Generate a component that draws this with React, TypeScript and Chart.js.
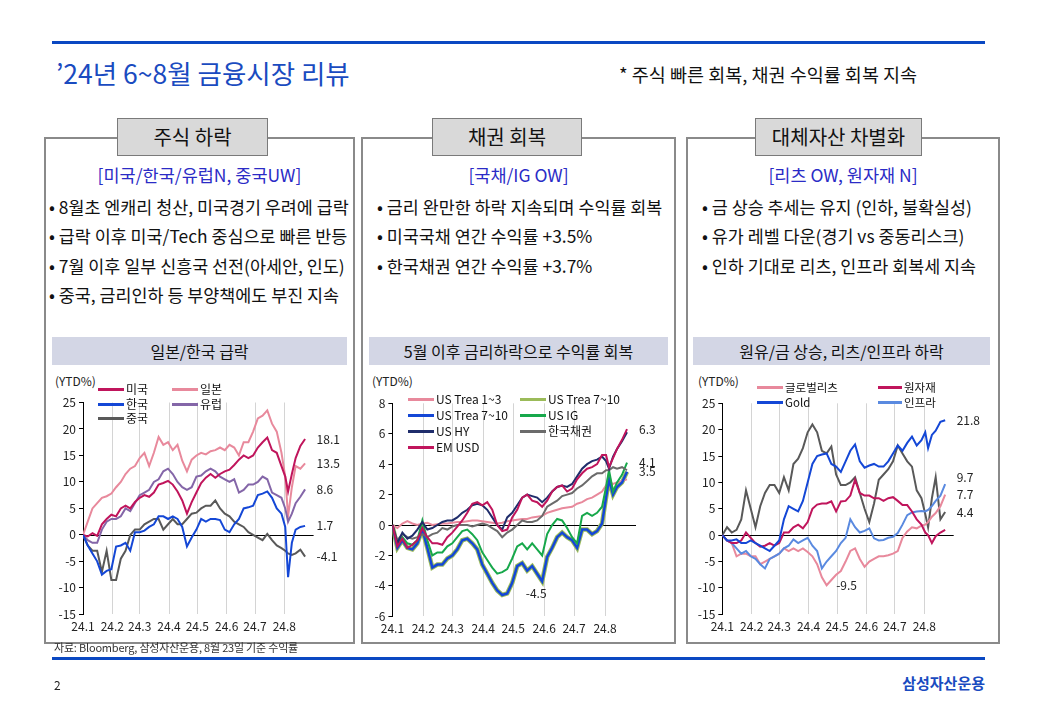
import React, { useEffect, useRef } from "react";
import { Chart, registerables } from "chart.js";

Chart.register(...registerables);

const FONT = '"Noto Sans CJK KR", "Noto Sans", sans-serif';
Chart.defaults.font.family = FONT;

// ---------- shared x data (days since 2024-01-01) ----------
const DAYS = [0, 5, 10, 15, 20, 25, 30, 35, 40, 45, 50, 55, 60, 65, 70, 75, 80, 85, 90, 95, 100, 105, 110, 115, 120, 125, 130, 135, 140, 145, 150, 155, 160, 165, 170, 175, 180, 185, 190, 195, 200, 205, 210, 214, 217, 221, 225, 230, 235];
const MONTH_DAYS = [0, 31, 60, 91, 121, 152, 182, 213];
const MONTH_LABELS = ["24.1", "24.2", "24.3", "24.4", "24.5", "24.6", "24.7", "24.8"];

// ---------- chart 1: equities ----------
const EQ_US = [0, -0.3, 0.3, -0.2, 2.0, 3.0, 3.8, 3.5, 5.0, 5.5, 5.0, 6.2, 7.0, 7.5, 7.2, 8.0, 9.5, 9.8, 10.2, 9.5, 8.2, 6.5, 4.0, 6.2, 8.0, 9.8, 10.8, 11.5, 10.8, 11.5, 12.0, 12.3, 13.2, 14.2, 15.0, 14.5, 15.0, 16.5, 17.5, 18.4, 16.0, 15.5, 13.0, 11.0, 8.2, 11.5, 14.5, 16.8, 18.1];
const EQ_JP = [0, 2.5, 5.0, 6.0, 7.0, 7.3, 7.8, 9.0, 10.0, 11.5, 12.5, 13.0, 14.5, 15.5, 13.0, 15.5, 18.5, 17.0, 17.5, 16.0, 17.0, 14.0, 12.0, 14.2, 15.0, 15.5, 15.2, 15.8, 16.0, 16.5, 16.0, 17.0, 16.5, 15.0, 17.5, 17.5, 19.5, 22.0, 22.5, 23.5, 21.0, 19.5, 15.5, 11.0, 3.5, 9.0, 13.0, 12.5, 13.5];
const EQ_KR = [0, -2.0, -3.5, -5.0, -7.5, -6.8, -6.5, -2.2, -2.0, -1.5, -3.0, 0.5, 0.5, 0.8, 1.5, 2.0, 3.5, 3.5, 3.0, 3.5, 3.0, 1.5, -2.2, -0.5, 1.0, 3.0, 2.5, 3.0, 3.0, 2.8, 1.0, 0.5, 2.0, 3.0, 5.0, 5.2, 5.5, 7.5, 7.8, 8.2, 7.0, 5.0, 4.0, 1.5, -8.0, -1.5, 1.0, 1.5, 1.7];
const EQ_EU = [0, -1.0, -1.5, -1.5, 1.0, 2.5, 3.0, 3.0, 3.5, 5.0, 4.5, 6.0, 7.5, 8.0, 8.5, 10.0, 10.5, 12.0, 12.5, 11.5, 10.0, 9.0, 8.5, 9.0, 11.0, 11.2, 12.0, 12.5, 12.0, 11.0, 10.5, 10.0, 10.5, 8.0, 8.5, 9.5, 9.5, 10.0, 11.0, 10.5, 8.0, 7.5, 7.0, 5.0, 2.5, 4.0, 6.0, 7.2, 8.6];
const EQ_CN = [0, -2.0, -3.0, -3.0, -7.0, -3.0, -8.5, -8.5, -4.5, -3.0, 0.0, 1.0, 1.0, 2.0, 2.5, 3.0, 3.0, 1.0, 2.0, 3.0, 2.0, 2.0, 3.0, 4.0, 4.2, 5.0, 5.5, 5.5, 6.5, 5.0, 4.0, 3.5, 2.5, 2.0, 1.5, 0.5, 0.0, -0.5, -1.0, 0.2, -1.0, -2.0, -2.5, -3.0, -3.5, -3.8, -3.5, -2.8, -4.1];
const EQ_END_LABELS = ["18.1", "13.5", "8.6", "1.7", "-4.1"];
const EQ_END_VALUES = [18.1, 13.5, 8.6, 1.7, -4.1];

// ---------- chart 2: bonds ----------
const BD_T13 = [0, -0.2, 0.1, 0.25, 0.1, 0.0, 0.1, 0.15, 0.0, 0.05, 0.1, 0.1, 0.15, 0.2, 0.2, 0.25, 0.3, 0.3, 0.25, 0.2, 0.15, 0.1, 0.15, 0.25, 0.3, 0.35, 0.4, 0.4, 0.5, 0.55, 0.6, 0.8, 0.9, 1.0, 1.1, 1.15, 1.2, 1.4, 1.5, 1.7, 1.8, 2.0, 2.2, 2.6, 2.8, 2.7, 2.8, 2.9, 3.0];
const BD_T710 = [0, -1.5, -1.0, -1.5, -1.6, -1.2, -0.3, -1.5, -2.8, -2.6, -2.6, -2.2, -2.0, -1.6, -1.0, -0.9, -1.2, -1.6, -2.6, -3.2, -3.8, -4.3, -4.6, -4.5, -3.8, -2.7, -2.5, -3.0, -2.7, -3.2, -3.7, -2.1, -1.5, -0.8, -0.5, -0.8, -1.0, -1.5, -0.3, -0.3, -0.6, -0.4, 0.1, 1.8, 3.0, 2.0, 2.5, 2.8, 3.5];
const BD_IG = [0, -1.2, -0.8, -1.2, -1.3, -1.0, 0.3, -1.0, -2.0, -1.8, -1.8, -1.4, -1.2, -0.8, -0.4, -0.3, -0.6, -1.0, -1.8, -2.3, -2.8, -3.2, -3.1, -2.9, -2.2, -1.4, -1.2, -1.6, -1.2, -1.6, -2.0, -0.6, 0.0, 0.4, 0.3, -0.2, -0.8, -1.2, 0.6, 0.8, 0.6, 0.8, 1.2, 2.5, 3.6, 2.2, 2.8, 3.3, 4.1];
const BD_HY = [0, -1.2, -0.5, -0.9, -0.7, -0.3, 0.2, -0.3, -0.2, 0.0, 0.2, 0.3, 0.3, 0.5, 0.8, 1.0, 1.3, 1.4, 1.3, 1.0, 0.5, 0.0, -0.3, 0.5, 0.8, 1.3, 1.8, 2.0, 1.9, 1.8, 1.5, 1.8, 2.2, 2.5, 2.6, 2.5, 2.7, 3.2, 3.7, 4.0, 4.2, 4.3, 4.5, 4.2, 3.7, 4.5, 5.0, 5.5, 6.1];
const BD_EM = [0, -1.4, -0.9, -1.5, -1.3, -1.0, -0.2, -0.8, -1.2, -1.2, -1.3, -0.8, -0.5, -0.1, 0.3, 0.8, 1.4, 1.5, 1.3, 1.5, 1.0, 0.0, -0.4, -0.3, 0.5, 1.0, 1.8, 2.0, 1.6, 1.5, 1.2, 1.6, 2.2, 2.5, 2.6, 2.2, 2.4, 3.0, 3.4, 3.7, 3.8, 4.0, 4.6, 4.6, 3.8, 4.4, 5.0, 5.6, 6.3];
const BD_KR = [0, -1.0, -0.6, -0.8, -0.9, -0.8, -0.6, -0.8, -0.6, -0.5, -0.2, -0.3, -0.1, 0.0, 0.0, 0.0, -0.1, 0.0, 0.1, 0.0, -0.2, -0.4, -0.8, -0.5, -0.3, 0.0, 0.3, 0.2, 0.2, 0.3, 0.6, 1.2, 1.4, 1.6, 1.9, 2.0, 2.1, 2.4, 2.6, 2.9, 3.2, 3.4, 3.4, 3.6, 3.6, 3.8, 3.7, 3.8, 3.6];
const BD_END_LABELS = ["6.3", "4.1", "3.5"];
const BD_END_VALUES = [6.3, 4.1, 3.5];
const BD_MIN_LABEL = "-4.5";
const BD_MIN_DAY = 144;
const BD_MIN_VALUE = -4.5;

// ---------- chart 3: alternatives ----------
const AL_REIT = [0, -1.0, -1.5, -4.0, -3.5, -3.5, -4.0, -4.0, -5.5, -5.0, -4.5, -4.0, -3.5, -2.5, -3.0, -2.5, -3.0, -2.5, -3.2, -4.0, -5.5, -8.0, -9.5, -8.5, -7.5, -6.8, -5.0, -3.0, -2.5, -4.5, -6.0, -5.0, -4.5, -4.0, -4.0, -3.8, -3.5, -3.0, -0.5, 0.7, 1.5, 1.3, 1.8, 2.0, 2.5, 3.5, 4.2, 5.5, 7.7];
const AL_COM = [0, -1.0, -1.5, -1.5, -1.0, 0.5, -0.5, -1.5, -2.2, -2.0, -1.5, -2.0, -1.5, 0.5, 0.5, 1.5, 2.0, 1.3, 2.5, 5.0, 5.8, 6.0, 6.0, 6.4, 4.5, 6.4, 6.5, 7.5, 10.5, 8.0, 7.5, 7.5, 7.0, 7.0, 6.5, 7.0, 7.2, 6.5, 5.7, 5.7, 4.5, 3.0, 2.0, 0.5, 0.0, -1.5, -0.2, 0.5, 1.0];
const AL_GOLD = [0, -1.0, -1.0, -0.8, -1.5, -1.5, -1.0, -1.5, -2.0, -2.5, -3.0, -2.0, -1.0, 3.0, 5.5, 5.0, 4.5, 6.5, 10.0, 13.5, 15.0, 15.3, 15.5, 13.5, 13.0, 12.0, 14.0, 16.0, 17.2, 14.0, 12.8, 13.2, 13.5, 13.0, 13.0, 14.0, 15.5, 17.0, 16.0, 17.5, 18.7, 17.0, 18.0, 19.5, 16.5, 19.0, 19.8, 21.5, 21.8];
const AL_INFRA = [0, -1.0, -1.5, -2.5, -3.5, -3.0, -4.0, -4.5, -5.5, -6.3, -4.5, -4.0, -3.5, -2.5, -2.0, -0.8, -1.5, -1.0, -0.5, -2.0, -3.0, -6.3, -5.0, -4.0, -3.0, -1.5, -0.5, 3.0, 1.5, 0.5, 0.8, 1.3, -0.6, -1.0, -0.9, -0.5, -0.3, 0.4, 2.0, 3.8, 4.3, 4.5, 4.6, 4.5, 4.8, 5.5, 6.5, 7.5, 9.7];
const AL_OIL = [0, 1.5, 0.5, 1.0, 3.0, 8.5, 5.0, 1.5, 5.5, 8.0, 9.5, 9.5, 8.0, 11.0, 8.5, 13.5, 14.5, 16.5, 19.5, 21.0, 19.5, 16.0, 15.5, 16.8, 11.5, 9.5, 9.5, 10.0, 11.0, 8.0, 5.0, 2.5, 6.0, 10.5, 11.5, 12.5, 14.0, 17.0, 15.5, 14.0, 13.0, 8.5, 7.0, 4.0, 1.5, 7.0, 11.0, 3.0, 4.4];
const AL_END_LABELS = ["21.8", "9.7", "7.7", "4.4"];
const AL_END_VALUES = [21.8, 9.7, 7.7, 4.4];
const AL_MIN_LABEL = "-9.5";
const AL_MIN_DAY = 131;
const AL_MIN_VALUE = -9.6;

// ---------- colours ----------
const C_CRIMSON = "#C0155C";
const C_PINK = "#E8899C";
const C_BLUE = "#1447D6";
const C_PURPLE = "#8466A8";
const C_DGRAY = "#595959";
const C_OLIVE = "#9BBB59";
const C_GREEN = "#17A84B";
const C_NAVY = "#1F2D6B";
const C_GRAY = "#6B6B6B";
const C_LBLUE = "#5A8AE0";
const C_LINE_BLUE = "#0A48C2";
const C_SUB_BLUE = "#2B2BC6";

type Lbl = { text: string; value: number; day?: number; dy?: number };

const overlayPlugin = {
  id: "overlay",
  beforeDatasetsDraw(chart: any) {
    const { ctx, chartArea, scales } = chart;
    const y0 = Math.round(scales.y.getPixelForValue(0)) + 0.5;
    ctx.save();
    ctx.strokeStyle = "#000";
    ctx.lineWidth = 1;
    ctx.beginPath();
    ctx.moveTo(chartArea.left, y0);
    ctx.lineTo(chartArea.right, y0);
    ctx.stroke();
    ctx.restore();
  },
  afterDatasetsDraw(chart: any, _args: any, opts: any) {
    const { ctx, chartArea, scales } = chart;
    ctx.save();
    ctx.font = `12px ${FONT}`;
    ctx.fillStyle = "#222";
    ctx.textBaseline = "middle";
    for (const l of (opts.labels || []) as Lbl[]) {
      const py = scales.y.getPixelForValue(l.value) + (l.dy || 0);
      if (l.day !== undefined) {
        ctx.textAlign = "center";
        ctx.fillText(l.text, scales.x.getPixelForValue(l.day), py);
      } else {
        ctx.textAlign = "left";
        ctx.fillText(l.text, chartArea.right + 3, py);
      }
    }
    ctx.restore();
  },
};

type DS = { data: number[]; color: string; width?: number };

// series listed top-most first (Chart.js draws dataset 0 last)
function LineChart(p: {
  left: number; top: number; width: number; height: number;
  yMin: number; yMax: number; yStep: number;
  yAxisW: number; xAxisH: number; padTop: number; padRight: number;
  series: DS[]; labels: Lbl[];
}) {
  const ref = useRef<HTMLCanvasElement>(null);
  useEffect(() => {
    const chart = new Chart(ref.current as HTMLCanvasElement, {
      type: "line",
      data: {
        datasets: p.series.map((s) => ({
          data: DAYS.map((d, i) => ({ x: d, y: s.data[i] })),
          borderColor: s.color,
          backgroundColor: s.color,
          borderWidth: s.width || 2,
          pointRadius: 0,
          tension: 0,
          fill: false,
        })),
      },
      options: {
        animation: false,
        responsive: false,
        maintainAspectRatio: false,
        devicePixelRatio: 1,
        layout: { padding: { top: p.padTop, right: p.padRight, bottom: 0, left: 0 } },
        plugins: {
          legend: { display: false },
          tooltip: { enabled: false },
          overlay: { labels: p.labels },
        } as any,
        scales: {
          x: {
            type: "linear",
            min: 0,
            max: 244,
            afterBuildTicks: (s: any) => {
              s.ticks = MONTH_DAYS.map((v) => ({ value: v }));
            },
            afterFit: (s: any) => {
              s.height = p.xAxisH;
            },
            ticks: {
              autoSkip: false,
              maxRotation: 0,
              padding: 5,
              color: "#222",
              font: { size: 12, family: FONT },
              callback: (v: any) => MONTH_LABELS[MONTH_DAYS.indexOf(Number(v))] ?? "",
            },
            grid: { color: "#D4D4D4", lineWidth: 1, drawTicks: false },
            border: { display: false },
          },
          y: {
            min: p.yMin,
            max: p.yMax,
            afterFit: (s: any) => {
              s.width = p.yAxisW;
            },
            ticks: {
              stepSize: p.yStep,
              padding: 3,
              color: "#222",
              font: { size: 12, family: FONT },
            },
            grid: { drawOnChartArea: false, drawTicks: true, tickLength: 4, color: "#000" },
            border: { display: true, color: "#000", width: 1 },
          },
        },
      },
      plugins: [overlayPlugin],
    } as any);
    return () => chart.destroy();
  }, []);
  return (
    <canvas
      ref={ref}
      width={p.width}
      height={p.height}
      style={{ position: "absolute", left: p.left, top: p.top, width: p.width, height: p.height }}
    />
  );
}

const abs = { position: "absolute" as const };

function LegendItem(p: { x: number; y: number; color: string; text: string; lw?: number; fs?: number }) {
  return (
    <>
      <div style={{ ...abs, left: p.x, top: p.y - 1.5, width: p.lw || 26, height: 3, background: p.color }} />
      <div style={{ ...abs, left: p.x + (p.lw || 26) + 2, top: p.y - 9, fontSize: p.fs || 12, lineHeight: "18px", whiteSpace: "nowrap", color: "#111" }}>{p.text}</div>
    </>
  );
}

function Panel(p: { left: number; width: number; tabLeft: number; tabWidth: number; tab: string; sub: string; bullets: string[]; band: string; bandLeft: number; bandWidth: number; bulletX: number }) {
  return (
    <>
      <div style={{ ...abs, left: p.left, top: 137, width: p.width, height: 507, border: "2px solid #8A8A8A", boxSizing: "border-box" }} />
      <div style={{ ...abs, left: p.tabLeft, top: 118, width: p.tabWidth, height: 38, background: "#D9D9D9", border: "1.5px solid #7A7A7A", boxSizing: "border-box", textAlign: "center", fontSize: 20, lineHeight: "35px", color: "#111", whiteSpace: "nowrap" }}>{p.tab}</div>
      <div style={{ ...abs, left: p.left, top: 163, width: p.width, textAlign: "center", fontSize: 17.5, lineHeight: "24px", color: C_SUB_BLUE, whiteSpace: "nowrap" }}>{p.sub}</div>
      {p.bullets.map((b, i) => (
        <div key={i} style={{ ...abs, left: p.bulletX, top: 195 + i * 29.3, fontSize: 17.4, lineHeight: "24px", whiteSpace: "nowrap", color: "#111" }}>{"• " + b}</div>
      ))}
      <div style={{ ...abs, left: p.bandLeft, top: 337, width: p.bandWidth, height: 28, background: "#D3D6E5", textAlign: "center", fontSize: 16, lineHeight: "28px", color: "#111", whiteSpace: "nowrap" }}>{p.band}</div>
    </>
  );
}

export default function App() {
  const ytd = (x: number) => (
    <div style={{ ...abs, left: x, top: 372, fontSize: 12, lineHeight: "17px", color: "#222" }}>(YTD%)</div>
  );
  return (
    <div style={{ position: "absolute", left: 0, top: 0, width: 1040, height: 720, background: "#fff", fontFamily: FONT, overflow: "hidden" }}>
      <div style={{ ...abs, left: 52, top: 41, width: 933, height: 3, background: C_LINE_BLUE }} />
      <div style={{ ...abs, left: 56, top: 55, fontSize: 26.5, lineHeight: "36px", color: "#1A4BC0", whiteSpace: "nowrap" }}>’24년 6~8월 금융시장 리뷰</div>
      <div style={{ ...abs, left: 619, top: 61, fontSize: 18.5, lineHeight: "26px", color: "#111", whiteSpace: "nowrap" }}>* 주식 빠른 회복, 채권 수익률 회복 지속</div>

      <Panel left={44} width={311} tabLeft={117} tabWidth={151} tab="주식 하락" sub="[미국/한국/유럽N, 중국UW]" bulletX={49}
        bullets={["8월초 엔캐리 청산, 미국경기 우려에 급락", "급락 이후 미국/Tech 중심으로 빠른 반등", "7월 이후 일부 신흥국 선전(아세안, 인도)", "중국, 금리인하 등 부양책에도 부진 지속"]}
        band="일본/한국 급락" bandLeft={52} bandWidth={295} />
      <Panel left={361} width={315} tabLeft={432} tabWidth={150} tab="채권 회복" sub="[국채/IG OW]" bulletX={377}
        bullets={["금리 완만한 하락 지속되며 수익률 회복", "미국국채 연간 수익률 +3.5%", "한국채권 연간 수익률 +3.7%"]}
        band="5월 이후 금리하락으로 수익률 회복" bandLeft={369} bandWidth={299} />
      <Panel left={686} width={314} tabLeft={755} tabWidth={167} tab="대체자산 차별화" sub="[리츠 OW, 원자재 N]" bulletX={702}
        bullets={["금 상승 추세는 유지 (인하, 불확실성)", "유가 레벨 다운(경기 vs 중동리스크)", "인하 기대로 리츠, 인프라 회복세 지속"]}
        band="원유/금 상승, 리츠/인프라 하락" bandLeft={693} bandWidth={297} />

      {ytd(55)}
      {ytd(372)}
      {ytd(698)}

      <LineChart left={45} top={372} width={305} height={268} yMin={-15} yMax={25} yStep={5}
        yAxisW={38} xAxisH={25.7} padTop={30.5} padRight={36.4}
        series={[
          { data: EQ_KR, color: C_BLUE },
          { data: EQ_US, color: C_CRIMSON },
          { data: EQ_CN, color: C_DGRAY },
          { data: EQ_EU, color: C_PURPLE },
          { data: EQ_JP, color: C_PINK },
        ]}
        labels={EQ_END_LABELS.map((t, i) => ({ text: t, value: EQ_END_VALUES[i] }))} />
      <LegendItem x={98} y={389} color={C_CRIMSON} text="미국" />
      <LegendItem x={172} y={389} color={C_PINK} text="일본" />
      <LegendItem x={98} y={404} color={C_BLUE} text="한국" />
      <LegendItem x={172} y={404} color={C_PURPLE} text="유럽" />
      <LegendItem x={98} y={418} color={C_DGRAY} text="중국" />

      <LineChart left={362} top={372} width={313} height={268} yMin={-6} yMax={8} yStep={2}
        yAxisW={30.4} xAxisH={23.7} padTop={31.3} padRight={39}
        series={[
          { data: BD_EM, color: C_CRIMSON },
          { data: BD_HY, color: C_NAVY },
          { data: BD_KR, color: C_GRAY },
          { data: BD_IG, color: C_GREEN },
          { data: BD_T710, color: C_BLUE, width: 2.5 },
          { data: BD_T13, color: C_PINK },
          { data: BD_T710, color: C_OLIVE, width: 4.5 },
        ]}
        labels={[
          ...BD_END_LABELS.map((t, i) => ({ text: t, value: BD_END_VALUES[i] })),
          { text: BD_MIN_LABEL, value: BD_MIN_VALUE, day: BD_MIN_DAY },
        ]} />
      <LegendItem x={408} y={399} color={C_PINK} text="US Trea 1~3" />
      <LegendItem x={520} y={399} color={C_OLIVE} text="US Trea 7~10" />
      <LegendItem x={408} y={415} color={C_BLUE} text="US Trea 7~10" />
      <LegendItem x={520} y={415} color={C_GREEN} text="US IG" />
      <LegendItem x={408} y={431} color={C_NAVY} text="US HY" />
      <LegendItem x={520} y={431} color={C_GRAY} text="한국채권" />
      <LegendItem x={408} y={447} color={C_CRIMSON} text="EM USD" />

      <LineChart left={687} top={372} width={313} height={268} yMin={-15} yMax={25} yStep={5}
        yAxisW={35.3} xAxisH={25.7} padTop={31.3} padRight={46.3}
        series={[
          { data: AL_GOLD, color: C_BLUE },
          { data: AL_COM, color: C_CRIMSON },
          { data: AL_INFRA, color: C_LBLUE },
          { data: AL_REIT, color: C_PINK },
          { data: AL_OIL, color: C_DGRAY },
        ]}
        labels={[
          ...AL_END_LABELS.map((t, i) => ({ text: t, value: AL_END_VALUES[i], dy: t === "9.7" ? -7 : 0 })),
          { text: AL_MIN_LABEL, value: AL_MIN_VALUE, day: AL_MIN_DAY },
        ]} />
      <LegendItem x={757} y={387} color={C_PINK} text="글로벌리츠" fs={11.5} />
      <LegendItem x={878} y={387} color={C_CRIMSON} text="원자재" lw={24} fs={11.5} />
      <LegendItem x={757} y={402} color={C_BLUE} text="Gold" fs={11.5} />
      <LegendItem x={878} y={402} color={C_LBLUE} text="인프라" lw={24} fs={11.5} />

      <div style={{ ...abs, left: 54, top: 640, fontSize: 11, lineHeight: "15px", color: "#333", whiteSpace: "nowrap", letterSpacing: -0.2 }}>자료: Bloomberg, 삼성자산운용, 8월 23일 기준 수익률</div>
      <div style={{ ...abs, left: 52, top: 657, width: 933, height: 3, background: C_LINE_BLUE }} />
      <div style={{ ...abs, left: 54, top: 676, fontSize: 12, lineHeight: "18px", color: "#222" }}>2</div>
      <div style={{ ...abs, left: 860, width: 125, top: 672, fontSize: 15, lineHeight: "22px", color: "#1A4BC0", fontWeight: 700, textAlign: "right", whiteSpace: "nowrap" }}>삼성자산운용</div>
    </div>
  );
}
